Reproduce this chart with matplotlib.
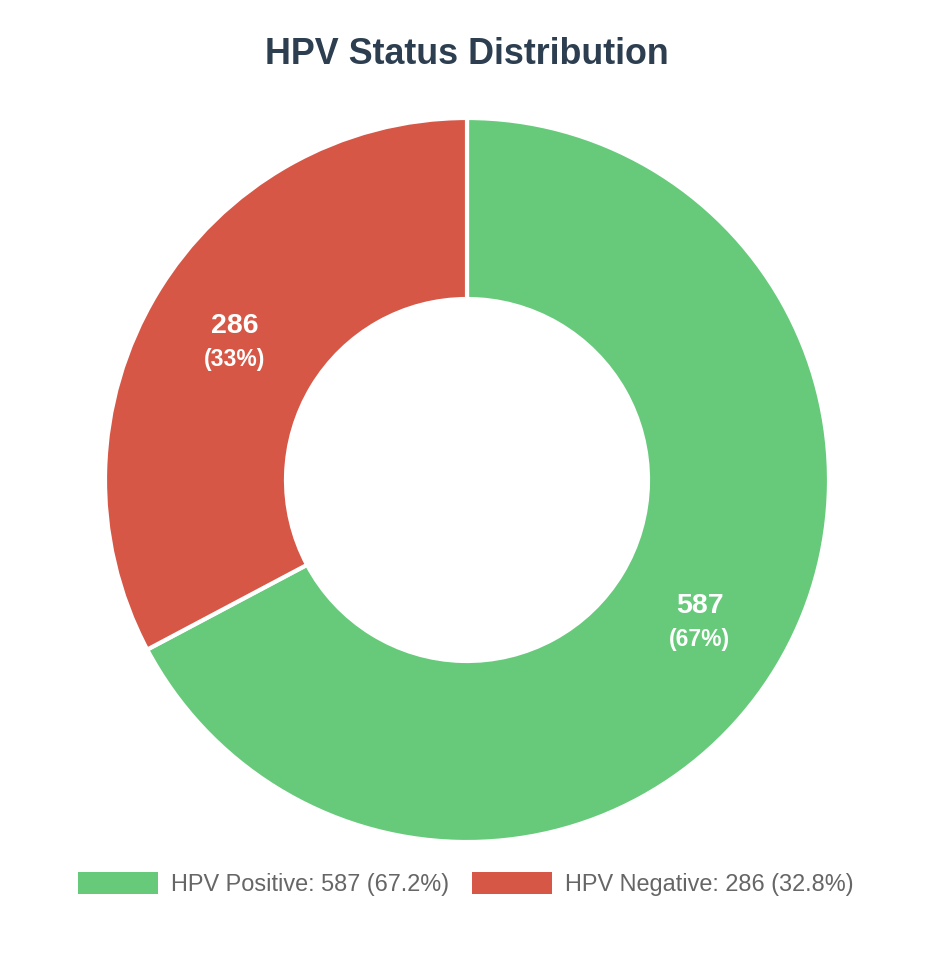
import matplotlib
matplotlib.use("Agg")
import matplotlib.pyplot as plt
from matplotlib.patches import Rectangle
import numpy as np

plt.rcParams['font.family'] = ['Liberation Sans', 'DejaVu Sans']

categories = ["HPV Positive", "HPV Negative"]
values = [587, 286]
colors = ["#66CA7A", "#D65746"]
title = "HPV Status Distribution"

W, H = 944, 958
fig = plt.figure(figsize=(W / 100, H / 100), dpi=100)
cx, cy, R = 467, 480, 362
ax = fig.add_axes([(cx - R) / W, (H - cy - R) / H, 2 * R / W, 2 * R / H])

total = sum(values)
wedges, _ = ax.pie(values, colors=colors, startangle=90, counterclock=False,
                   radius=1.0, wedgeprops=dict(width=0.5, edgecolor="white", linewidth=3))
ax.set_xlim(-1, 1)
ax.set_ylim(-1, 1)
ax.set_aspect("equal")
ax.axis("off")

for w, v in zip(wedges, values):
    ang = np.deg2rad((w.theta1 + w.theta2) / 2)
    r = 0.75
    x, y = r * np.cos(ang), r * np.sin(ang) - 0.008
    pct = round(v / total * 100)
    ax.text(x, y + 0.0455, f"{v}", ha="center", va="center", color="white",
            fontsize=20.5, fontweight="bold")
    ax.text(x, y - 0.0455, f"({pct}%)", ha="center", va="center", color="white",
            fontsize=16.5, fontweight="bold")

fig.text(467 / W, 1 - 55 / H, title, ha="center", va="center", fontsize=25.8,
         fontweight="bold", color="#2C3E50")

handles = [Rectangle((0, 0), 1, 1, facecolor=c, edgecolor="none") for c in colors]
labels = [f"{c}: {v} ({v / total * 100:.1f}%)" for c, v in zip(categories, values)]
leg = fig.legend(handles, labels, loc="center", bbox_to_anchor=(466 / W, 1 - 884 / H),
                 ncol=2, frameon=False, fontsize=16.9, handlelength=3.4, handleheight=1.1,
                 handletextpad=0.55, columnspacing=0.98)
for t in leg.get_texts():
    t.set_color("#666666")

fig.savefig("out.png", dpi=100, facecolor="white")
